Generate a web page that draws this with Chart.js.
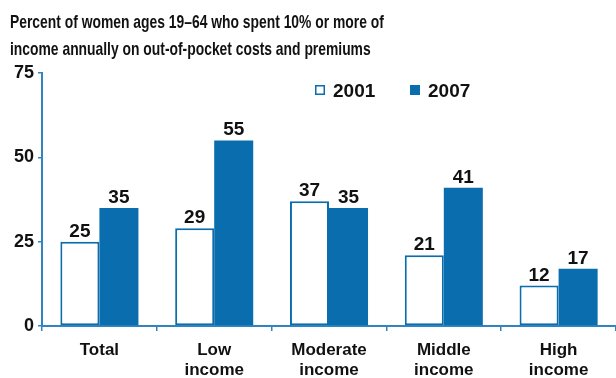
<!DOCTYPE html>
<html>
<head>
<meta charset="utf-8">
<script src="https://cdn.jsdelivr.net/npm/chart.js@4"></script>
<style>
  html, body { margin: 0; padding: 0; background: #fff; }
  #wrap { width: 616px; height: 378px; }
</style>
</head>
<body>
<div id="wrap"><canvas id="myChart"></canvas></div>
<script>
var categories = [['Total'], ['Low', 'income'], ['Moderate', 'income'], ['Middle', 'income'], ['High', 'income']];
var seriesNames = ['2001', '2007'];
var values2001 = [25, 29, 37, 21, 12];
var values2007 = [35, 55, 35, 41, 17];
var yTicks = [0, 25, 50, 75];
var titleLines = [
  'Percent of women ages 19\u201364 who spent 10% or more of',
  'income annually on out-of-pocket costs and premiums'
];

var BLUE = '#0a6dad';
var AXIS = '#3284c0';
var INK = '#111';
var FONT = '"Liberation Sans", Arial, sans-serif';

// two-line heading in a narrow face, squeezed horizontally
var heading = {
  id: 'heading',
  afterDraw: function(chart) {
    var ctx = chart.ctx;
    ctx.save();
    ctx.font = 'bold 19px ' + FONT;
    ctx.fillStyle = INK;
    ctx.textBaseline = 'alphabetic';
    ctx.textAlign = 'left';
    titleLines.forEach(function(line, i) {
      ctx.save();
      ctx.translate(10, 28 + i * 26.5);
      ctx.scale(0.73, 1);
      ctx.fillText(line, 0, 0);
      ctx.restore();
    });
    ctx.restore();
  }
};

// numbers above each bar
var valueLabels = {
  id: 'valueLabels',
  afterDatasetsDraw: function(chart) {
    var ctx = chart.ctx;
    ctx.save();
    ctx.font = 'bold 19px ' + FONT;
    ctx.fillStyle = INK;
    ctx.textAlign = 'center';
    ctx.textBaseline = 'alphabetic';
    chart.data.datasets.forEach(function(ds, i) {
      chart.getDatasetMeta(i).data.forEach(function(bar, j) {
        ctx.fillText(ds.data[j], bar.x, bar.y - 5);
      });
    });
    ctx.restore();
  }
};

// small legend inside the plot, upper right
var boxLegend = {
  id: 'boxLegend',
  afterDraw: function(chart) {
    var ctx = chart.ctx;
    var area = chart.chartArea;
    var y = area.top + 17;
    var xs = [area.left + 273, area.left + 368];
    ctx.save();
    ctx.font = 'bold 19px ' + FONT;
    ctx.textBaseline = 'alphabetic';
    chart.data.datasets.forEach(function(ds, i) {
      var x = xs[i];
      ctx.fillStyle = ds.backgroundColor;
      ctx.fillRect(x, y - 5, 10, 10);
      if (ds.borderWidth) {
        ctx.strokeStyle = ds.borderColor;
        ctx.lineWidth = 1.5;
        ctx.strokeRect(x + 0.75, y - 4.25, 8.5, 8.5);
      }
      ctx.fillStyle = INK;
      ctx.fillText(ds.label, x + 18, y + 7);
    });
    ctx.restore();
  }
};

new Chart(document.getElementById('myChart'), {
  type: 'bar',
  data: {
    labels: categories,
    datasets: [{
      label: seriesNames[0],
      data: values2001,
      backgroundColor: '#ffffff',
      borderColor: BLUE,
      borderWidth: 2,
      borderSkipped: false
    }, {
      label: seriesNames[1],
      data: values2007,
      backgroundColor: BLUE,
      borderWidth: 0
    }]
  },
  options: {
    responsive: true,
    maintainAspectRatio: false,
    animation: false,
    layout: { padding: { left: 10, right: 0, top: 73, bottom: 0 } },
    datasets: {
      bar: { categoryPercentage: 0.68, barPercentage: 1 }
    },
    plugins: {
      legend: { display: false },
      tooltip: { enabled: false },
      title: { display: false }
    },
    scales: {
      x: {
        afterFit: function(scale) { scale.height = 52; },
        grid: { display: true, drawOnChartArea: false, offset: true, tickLength: 5, color: AXIS, lineWidth: 1.5 },
        border: { display: true, color: AXIS, width: 2 },
        ticks: {
          color: INK,
          padding: 9,
          font: { family: FONT, size: 17, weight: 'bold', lineHeight: 1.2 }
        }
      },
      y: {
        min: 0,
        max: 75,
        afterFit: function(scale) { scale.width = 32; },
        afterBuildTicks: function(scale) {
          scale.ticks = yTicks.map(function(v) { return { value: v }; });
        },
        grid: { display: true, drawOnChartArea: false, tickLength: 4, color: AXIS, lineWidth: 1.5 },
        border: { display: true, color: AXIS, width: 2 },
        ticks: {
          color: INK,
          padding: 4,
          font: { family: FONT, size: 18, weight: 'bold' }
        }
      }
    }
  },
  plugins: [valueLabels, boxLegend, heading]
});
</script>
</body>
</html>
